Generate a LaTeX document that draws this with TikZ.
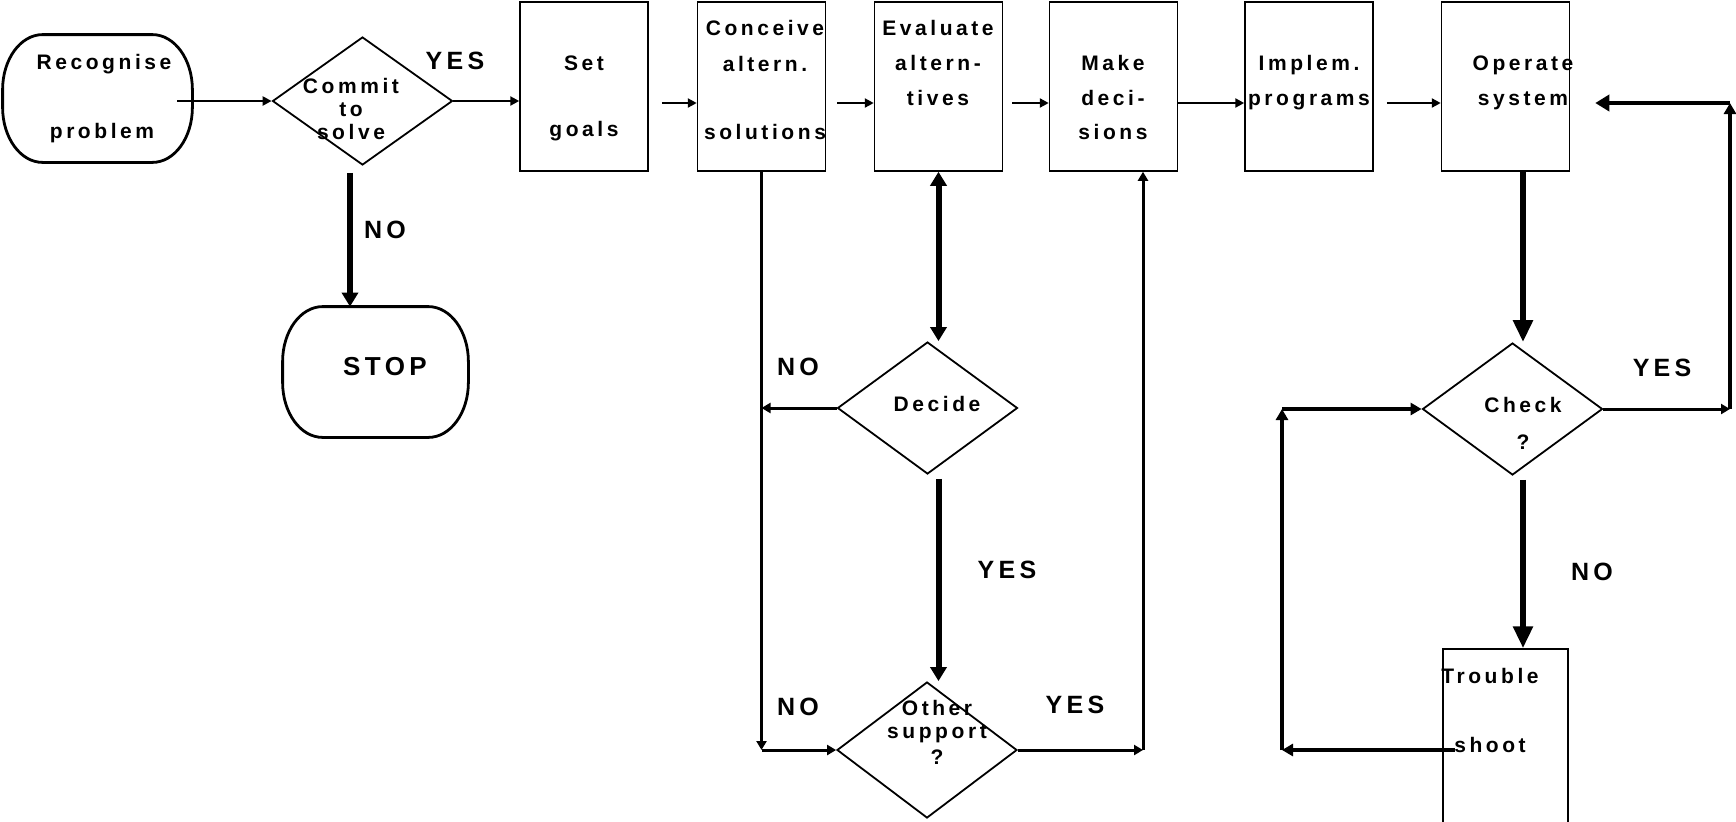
\documentclass[tikz,border=0pt]{standalone}
\usepackage{fontspec}
\setmainfont{Liberation Sans}[LetterSpace=17]
\usetikzlibrary{shapes.geometric,arrows.meta,calc}

% Outline with flat top/bottom and elliptical corners, drawn around a named node
% #1 node name, #2 horizontal corner radius, #3 vertical corner radius
\newcommand\capsuleoutline[3]{%
  \draw[line width=1.4pt]
    ($(#1.north west)+(#2,0)$) -- ($(#1.north east)+(-#2,0)$)
    arc[start angle=-90, end angle=0, x radius=#2, y radius=#3]
    -- ($(#1.south east)+(0,-#3)$)
    arc[start angle=0, end angle=90, x radius=#2, y radius=#3]
    -- ($(#1.south west)+(#2,0)$)
    arc[start angle=90, end angle=180, x radius=#2, y radius=#3]
    -- ($(#1.north west)+(0,#3)$)
    arc[start angle=180, end angle=270, x radius=#2, y radius=#3] -- cycle;}

\begin{document}
\begin{tikzpicture}[x=0.5pt,y=-0.5pt,
  stepbox/.style={draw, line width=0.75pt, inner sep=0pt, minimum width=64pt, minimum height=84.5pt},
  decision/.style={diamond, draw, line width=0.9pt, inner sep=0pt, minimum width=90pt, minimum height=66pt},
  terminal/.style={inner sep=0pt},
  txt/.style={font=\bfseries\fontsize{10.5}{12}\selectfont, inner sep=0pt, anchor=base},
  lbl/.style={font=\bfseries\fontsize{12.5}{14}\selectfont, inner sep=0pt},
  flow/.style={line width=1.2pt, -{Triangle[length=4.5pt,width=4.5pt]}},
  link/.style={line width=1.5pt, -{Triangle[length=4.5pt,width=5pt]}},
  heavy/.style={line width=3pt, -{Triangle[length=7pt,width=8pt]}},
  bold/.style={line width=2.2pt, -{Triangle[length=5.5pt,width=6pt]}},
  heavybig/.style={line width=3.4pt, -{Triangle[length=11pt,width=9.5pt]}},
]
\useasboundingbox (0,0) rectangle (1736,821);
\clip (0,0) rectangle (1736,821);

% helper positions for connector lanes
\coordinate (row) at (0,103);
\coordinate (xno) at (350,0);
\coordinate (xm) at (1143,0);
\coordinate (xo) at (1523,0);
\coordinate (xr) at (1730,0);
\coordinate (xt) at (1282,0);
\coordinate (tsrc) at (1455,750);

% shapes
\node[terminal, minimum width=94.5pt, minimum height=63.5pt] (rec) at (97.5,98.5) {};
\capsuleoutline{rec}{40}{55}
\node[decision, minimum height=64pt] (com) at (362.5,101) {};
\node[stepbox] (set) at (584,86.5) {};
\node[stepbox] (conc) at (761.5,86.5) {};
\node[stepbox] (eva) at (938.5,86.5) {};
\node[stepbox] (mak) at (1113.5,86.5) {};
\node[stepbox] (imp) at (1309,86.5) {};
\node[stepbox] (ope) at (1505.5,86.5) {};
\node[terminal, minimum width=92.5pt, minimum height=65pt] (stop) at (375.5,372) {};
\capsuleoutline{stop}{40}{55}
\node[decision] (dec) at (927.5,408) {};
\node[decision, minimum height=68pt] (oth) at (927,750) {};
\node[decision] (chk) at (1512.5,409) {};
\node[stepbox, minimum width=62.5pt, minimum height=92pt] (tro) at (1505.5,741) {};

% texts inside shapes
\node[txt] (r1) at (104,69) {Recognise};
\node[txt] (r2) at (102,138) {problem};
\node[txt] (c1) at (351,93) {Commit};
\node[txt] (c2) at (351,116) {to};
\node[txt] (c3) at (351,139) {solve};
\node[txt] (s1) at (584,70) {Set};
\node[txt] (s2) at (584,136) {goals};
\node[txt] (k1) at (765,35) {Conceive};
\node[txt] (k2) at (765,71) {altern.};
\node[txt] (k3) at (765,139) {solutions};
\node[txt] (e1) at (938,35) {Evaluate};
\node[txt] (e2) at (938,70) {altern-};
\node[txt] (e3) at (938,105) {tives};
\node[txt] (m1) at (1113,70) {Make};
\node[txt] (m2) at (1113,105) {deci-};
\node[txt] (m3) at (1113,139) {sions};
\node[txt] (i1) at (1309,70) {Implem.};
\node[txt] (i2) at (1309,105) {programs};
\node[txt] (o1) at (1523,70) {Operate};
\node[txt] (o2) at (1523,105) {system};
\node[txt] (d1) at (937,411) {Decide};
\node[txt] (h1) at (937,715) {Other};
\node[txt] (h2) at (937,738) {support};
\node[txt] (h3) at (937,764) {?};
\node[txt] (q1) at (1523,412) {Check};
\node[txt] (q2) at (1523,449) {?};
\node[txt] (u1) at (1490,683) {Trouble};
\node[txt] (u2) at (1490,752) {shoot};

% branch labels
\node[lbl] (y1) at (455,61) {YES};
\node[lbl] (n1) at (385,230) {NO};
\node[lbl, font=\bfseries\fontsize{13}{15}\selectfont] (st) at (385,367) {STOP};
\node[lbl] (n2) at (798,367) {NO};
\node[lbl] (n3) at (798,707) {NO};
\node[lbl] (y2) at (1007,570) {YES};
\node[lbl] (y3) at (1075,705) {YES};
\node[lbl] (y4) at (1662,368) {YES};
\node[lbl] (n4) at (1592,572) {NO};

% main sequence
\draw[flow] ($(rec.east |- com.west)+(-15,0)$) -- (com.west);
\draw[flow] (com.east) -- (com.east -| set.west);
\draw[flow, shorten <=6.5pt] (set.east |- row) -- (conc.west |- row);
\draw[flow, shorten <=5.5pt] (conc.east |- row) -- (eva.west |- row);
\draw[flow, shorten <=4.5pt] (eva.east |- row) -- (mak.west |- row);
\draw[flow] (mak.east |- row) -- (imp.west |- row);
\draw[flow, shorten <=6.5pt] (imp.east |- row) -- (ope.west |- row);

% commit: no
\draw[heavy, shorten <=3.5pt] (xno |- com.south) -- (xno |- stop.north);

% evaluation loop
\draw[heavy, {Triangle[length=7pt,width=8pt]}-{Triangle[length=7pt,width=8pt]}] (eva.south) -- (eva.south |- dec.north);
\draw[heavy, shorten <=2pt] (eva.south |- dec.south) -- (eva.south |- oth.north);
\draw[link] (dec.west) -- (dec.west -| conc.south);
\draw[link] (conc.south) -- (conc.south |- oth.west);
\draw[link] (conc.south |- oth.west) -- (oth.west);
\draw[link] (oth.east) -- (oth.east -| xm);
\draw[link] (oth.east -| xm) -- (xm |- mak.south);

% operation and check loop
\draw[heavybig] (xo |- ope.south) -- (xo |- chk.north);
\draw[heavybig, shorten <=2pt] (xo |- chk.south) -- (xo |- tro.north);
\draw[link] (chk.east) -- (chk.east -| xr);
\draw[bold] (chk.east -| xr) -- (xr |- row);
\draw[bold, -{Triangle[length=7pt,width=8pt]}, shorten >=12.5pt] (xr |- row) -- (ope.east |- row);
\draw[bold] (tsrc) -- (tsrc -| xt);
\draw[bold] (tsrc -| xt) -- (xt |- chk.west);
\draw[bold] (xt |- chk.west) -- (chk.west);
\end{tikzpicture}
\end{document}
